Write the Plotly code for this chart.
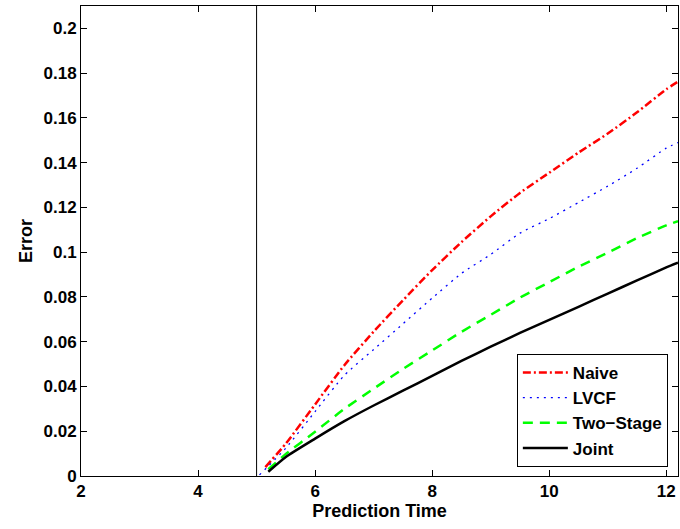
import plotly.graph_objects as go

# Prediction time grid (x) and error values
x_naive = [5.15, 5.5, 6.0, 6.5, 7.0, 7.5, 8.0, 8.5, 9.0, 9.5, 10.0, 10.5, 11.0, 11.5, 12.0, 12.2]
naive = [0.004, 0.0145, 0.032, 0.0495, 0.0645, 0.0785, 0.092, 0.1045, 0.116, 0.1265,
         0.1355, 0.1445, 0.153, 0.1625, 0.1728, 0.1762]

x_lvcf = [5.05, 5.5, 6.0, 6.5, 7.0, 7.5, 8.0, 8.5, 9.0, 9.5, 10.0, 10.5, 11.0, 11.5, 12.0, 12.2]
lvcf = [0.0005, 0.0125, 0.0288, 0.045, 0.0565, 0.068, 0.0795, 0.0905, 0.099, 0.1085,
        0.115, 0.1222, 0.1295, 0.1375, 0.1465, 0.149]

x_two = [5.2, 5.5, 6.0, 6.5, 7.0, 7.5, 8.0, 8.5, 9.0, 9.5, 10.0, 10.5, 11.0, 11.5, 12.0, 12.2]
two_stage = [0.003, 0.0098, 0.0198, 0.030, 0.039, 0.0478, 0.0561, 0.0644, 0.072, 0.0797,
             0.0866, 0.0935, 0.0998, 0.1063, 0.112, 0.1138]

x_joint = [5.2, 5.5, 6.0, 6.5, 7.0, 7.5, 8.0, 8.5, 9.0, 9.5, 10.0, 10.5, 11.0, 11.5, 12.0, 12.2]
joint = [0.0019, 0.0085, 0.0167, 0.0245, 0.0315, 0.0381, 0.0447, 0.0514, 0.0578, 0.0639,
         0.0698, 0.0756, 0.0815, 0.0874, 0.0932, 0.0953]

marker_time = 5.0

x_ticks = [2, 4, 6, 8, 10, 12]
y_ticks = [0, 0.02, 0.04, 0.06, 0.08, 0.1, 0.12, 0.14, 0.16, 0.18, 0.2]
y_tick_labels = ["0", "0.02", "0.04", "0.06", "0.08", "0.1", "0.12", "0.14", "0.16", "0.18", "0.2"]

FONT = "Liberation Sans, Arial, sans-serif"

fig = go.Figure()
fig.add_trace(go.Scatter(x=x_naive, y=naive, mode="lines", name="Naive",
                         line=dict(color="#ff0000", width=2.5, dash="8px,3px,2px,3px", shape="spline", smoothing=0.6)))
fig.add_trace(go.Scatter(x=x_lvcf, y=lvcf, mode="lines", name="LVCF",
                         line=dict(color="#0000ff", width=1.3, dash="2px,5px", shape="spline", smoothing=0.6)))
fig.add_trace(go.Scatter(x=x_two, y=two_stage, mode="lines", name="Two\u2212Stage",
                         line=dict(color="#00ff00", width=2.5, dash="10px,7px", shape="spline", smoothing=0.6)))
fig.add_trace(go.Scatter(x=x_joint, y=joint, mode="lines", name="Joint",
                         line=dict(color="#000000", width=2.5, shape="spline", smoothing=0.6)))

fig.add_shape(type="line", xref="x", yref="paper", x0=marker_time, x1=marker_time,
              y0=0, y1=1, line=dict(color="black", width=1))

axis_common = dict(showgrid=False, zeroline=False, showline=True, linecolor="black",
                   linewidth=1, mirror="ticks", ticks="inside", ticklen=6,
                   tickcolor="black", tickwidth=1,
                   tickfont=dict(family=FONT, size=17, color="black", weight="bold"))

fig.update_xaxes(range=[2, 12.2], tickvals=x_ticks,
                 title=dict(text="Prediction Time", standoff=2,
                            font=dict(family=FONT, size=18, color="black", weight="bold")),
                 **axis_common)
fig.update_yaxes(range=[0, 0.21], tickvals=y_ticks, ticktext=y_tick_labels,
                 title=dict(text="Error", standoff=6,
                            font=dict(family=FONT, size=18, color="black", weight="bold")),
                 **axis_common)

fig.update_layout(
    width=680, height=529,
    margin=dict(l=81, r=2, t=6, b=53),
    plot_bgcolor="white", paper_bgcolor="white",
    legend=dict(x=0.983, y=0.019, xanchor="right", yanchor="bottom",
                bordercolor="black", borderwidth=1, bgcolor="white",
                itemwidth=45,
                font=dict(family=FONT, size=17, color="black", weight="bold"),
                tracegroupgap=0),
)

fig.write_html("out.html")
